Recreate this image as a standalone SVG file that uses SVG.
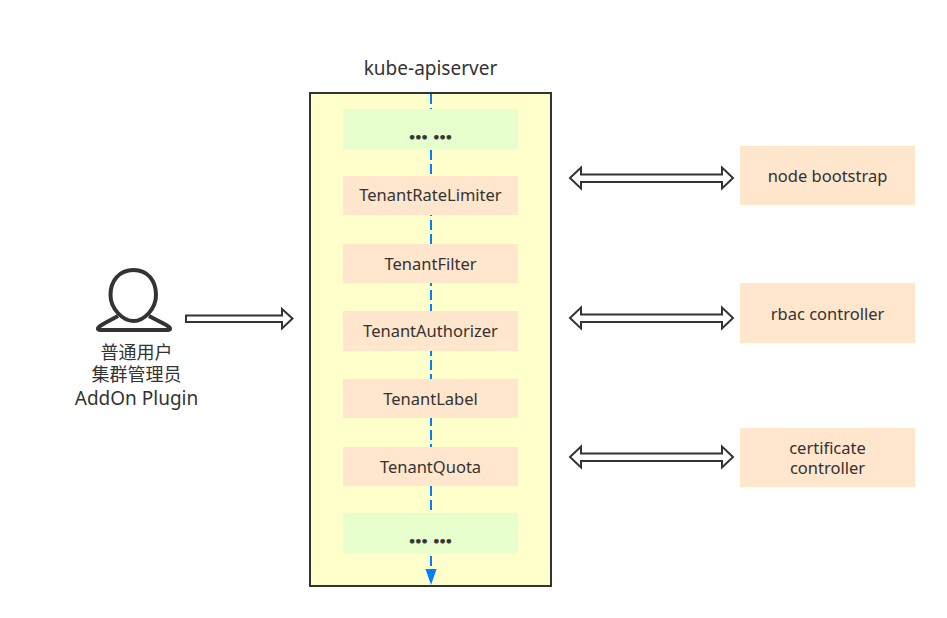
<svg xmlns="http://www.w3.org/2000/svg" width="947" height="618" viewBox="0 0 947 618">
<style>
text{font-family:"Noto Sans","Noto Sans CJK SC","Open Sans",sans-serif;fill:#333;text-anchor:middle;font-size:16.5px}
.peach{fill:#ffe6cc}
.green{fill:#e6ffcc}
.arrow{fill:#fff;stroke:#333;stroke-width:2;stroke-linejoin:miter}
.big{font-size:19px}
.cjk{font-size:18px}
.dots{font-size:22px;font-weight:bold;stroke:#333;stroke-width:.8}
</style>
<rect width="947" height="618" fill="#fff"/>
<g id="apiserver">
<rect x="310" y="93" width="241" height="493" fill="#ffffcc" stroke="#333" stroke-width="2"/>
<text x="430.500" y="75" class="big">kube-apiserver</text>
</g>
<g id="connectors">
<line x1="431" y1="94" x2="431" y2="569" stroke="#007fff" stroke-width="2" stroke-dasharray="10 4"/>
<path d="M425.500 569H436.500L431 585Z" fill="#007fff"/>
<polygon class="arrow" points="186,315.500 282,315.500 282,309 292.500,318.500 282,328.500 282,322 186,322"/>
<polygon class="arrow" points="570,178 581,167.500 581,174.500 722,174.500 722,167.500 733,178 722,188.500 722,182 581,182 581,188.500"/>
<polygon class="arrow" points="570,318 581,307.500 581,314.500 722,314.500 722,307.500 733,318 722,328.500 722,322 581,322 581,328.500"/>
<polygon class="arrow" points="570,457 581,446.500 581,453.500 722,453.500 722,446.500 733,457 722,467.500 722,461 581,461 581,467.500"/>
</g>
<g id="filter-top"><rect class="green" x="343" y="109" width="175" height="40"/><text x="430.500" y="138.500" class="dots">... ...</text></g>
<g id="tenant-rate-limiter"><rect class="peach" x="343" y="176" width="175" height="39"/><text x="430.500" y="201">TenantRateLimiter</text></g>
<g id="tenant-filter"><rect class="peach" x="343" y="244" width="175" height="39"/><text x="430.500" y="270">TenantFilter</text></g>
<g id="tenant-authorizer"><rect class="peach" x="343" y="311" width="175" height="40"/><text x="430.500" y="337">TenantAuthorizer</text></g>
<g id="tenant-label"><rect class="peach" x="343" y="379" width="175" height="39"/><text x="430.500" y="405">TenantLabel</text></g>
<g id="tenant-quota"><rect class="peach" x="343" y="447" width="175" height="39"/><text x="430.500" y="473">TenantQuota</text></g>
<g id="filter-bottom"><rect class="green" x="343" y="513" width="175" height="40"/><text x="430.500" y="542.500" class="dots">... ...</text></g>
<g id="node-bootstrap"><rect class="peach" x="740" y="146" width="175" height="59"/><text x="827.500" y="182">node bootstrap</text></g>
<g id="rbac-controller"><rect class="peach" x="740" y="283" width="175" height="60"/><text x="827.500" y="320">rbac controller</text></g>
<g id="certificate-controller"><rect class="peach" x="740" y="428" width="175" height="59"/><text x="827.500" y="454">certificate<tspan x="827.500" dy="20">controller</tspan></text></g>
<g id="user">
<path d="M118 316C107 322 102 324 99 327C97 329 98 330 101 330H167C170 330 171 329 169 327C166 324 160 322 149 316" fill="#fff" stroke="#333" stroke-width="4" stroke-linejoin="round"/>
<path d="M133.500 270C119 270 110.500 281 110.500 295C110.500 309 123 321 133.500 321C144 321 156 309 156 295C156 281 148 270 133.500 270Z" fill="#fff" stroke="#333" stroke-width="4"/>
<text x="136.500" y="359" class="cjk">普通用户</text>
<text x="136.500" y="381" class="cjk">集群管理员</text>
<text x="136.500" y="405" class="big">AddOn Plugin</text>
</g>
</svg>
